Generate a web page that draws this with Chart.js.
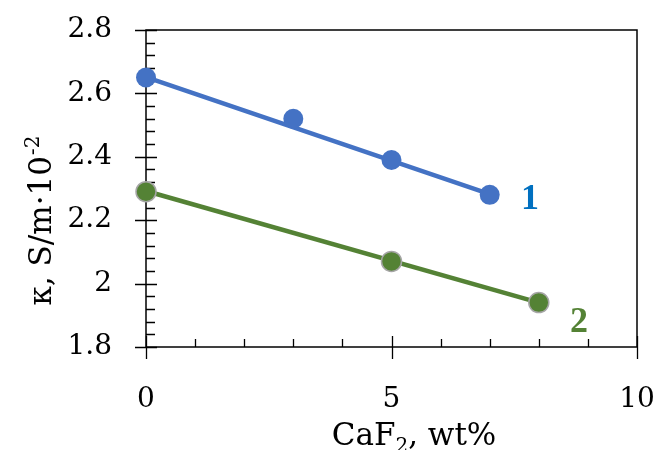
<!DOCTYPE html>
<html>
<head>
<meta charset="utf-8">
<script src="https://cdn.jsdelivr.net/npm/chart.js@4/dist/chart.umd.min.js"></script>
<style>
html,body{margin:0;padding:0;background:#fff;}
canvas{display:block;}
</style>
</head>
<body>
<canvas id="c" width="656" height="450"></canvas>
<script>
// ---- data ----
const series1X = [0, 3, 5, 7];
const series1Y = [2.65, 2.52, 2.39, 2.28];
const series2X = [0, 5, 8];
const series2Y = [2.29, 2.07, 1.94];
// trend lines (end points)
const trend1X = [0, 7];
const trend1Y = [2.651, 2.282];
const trend2X = [0, 8];
const trend2Y = [2.292, 1.94];
// series labels
const labelTexts = ['1', '2'];
const labelX = [7.82, 8.82];
const labelY = [2.266, 1.876];
// tick labels
const xTickValues = [0, 5, 10];
const yTickValues = [1.8, 2.0, 2.2, 2.4, 2.6, 2.8];
const xTitle = ['CaF', '2', ', wt%'];
const yTitle = ['κ, S/m·10', '-2'];

const BLUE = '#4472C4', GREEN = '#548235';
const FONT = '"DejaVu Serif", "Liberation Serif", serif';

function pts(xs, ys){ return xs.map((x,i)=>({x:x, y:ys[i]})); }

const framePlugin = {
  id: 'frame',
  beforeDatasetsDraw(chart){
    const ctx = chart.ctx, a = chart.chartArea;
    const xs = chart.scales.x, ys = chart.scales.y;
    ctx.save();
    ctx.strokeStyle = '#000';
    ctx.lineWidth = 1.5;
    ctx.strokeRect(a.left, a.top, a.right - a.left, a.bottom - a.top);
    ctx.lineWidth = 1.3;
    ctx.beginPath();
    for (let v = ys.min; v <= ys.max + 1e-9; v += 0.04) {
      const p = Math.round(ys.getPixelForValue(v)) + 0.5;
      ctx.moveTo(a.left, p); ctx.lineTo(a.left + 9, p);
    }
    yTickValues.forEach(v => {
      const p = Math.round(ys.getPixelForValue(v)) + 0.5;
      ctx.moveTo(a.left - 11, p); ctx.lineTo(a.left + 11, p);
    });
    for (let v = xs.min; v <= xs.max + 1e-9; v += 1) {
      const p = Math.round(xs.getPixelForValue(v)) + 0.5;
      ctx.moveTo(p, a.bottom); ctx.lineTo(p, a.bottom - 8);
    }
    xTickValues.forEach(v => {
      const p = Math.round(xs.getPixelForValue(v)) + 0.5;
      ctx.moveTo(p, a.bottom - 11); ctx.lineTo(p, a.bottom + 12);
    });
    ctx.stroke();
    ctx.restore();
  },
  afterDraw(chart){
    const ctx = chart.ctx;
    const xs = chart.scales.x, ys = chart.scales.y;
    ctx.save();
    ctx.font = 'bold 36px "Liberation Serif", serif';
    ctx.textAlign = 'center';
    ctx.textBaseline = 'middle';
    const cols = ['#0070C0', GREEN];
    labelTexts.forEach((t,i)=>{
      ctx.fillStyle = cols[i];
      ctx.fillText(t, xs.getPixelForValue(labelX[i]), ys.getPixelForValue(labelY[i]));
    });
    ctx.fillStyle = '#000';
    ctx.textAlign = 'left';
    ctx.textBaseline = 'alphabetic';
    const big = '31px ' + FONT, small = '20px ' + FONT;
    ctx.font = big; const w1 = ctx.measureText(xTitle[0]).width;
    ctx.font = small; const w2 = ctx.measureText(xTitle[1]).width;
    ctx.font = big; const w3 = ctx.measureText(xTitle[2]).width;
    let cx = 414 - (w1 + w2 + w3)/2, by = 445;
    ctx.font = big; ctx.fillText(xTitle[0], cx, by);
    ctx.font = small; ctx.fillText(xTitle[1], cx + w1, by + 7);
    ctx.font = big; ctx.fillText(xTitle[2], cx + w1 + w2, by);
    ctx.translate(51, 221);
    ctx.rotate(-Math.PI/2);
    ctx.font = big; const v1 = ctx.measureText(yTitle[0]).width;
    ctx.font = small; const v2 = ctx.measureText(yTitle[1]).width;
    let sx = -(v1 + v2)/2;
    ctx.font = big; ctx.fillText(yTitle[0], sx, 0);
    ctx.font = small; ctx.fillText(yTitle[1], sx + v1 + 1, -12);
    ctx.restore();
  }
};

new Chart(document.getElementById('c'), {
  type: 'scatter',
  data: {
    datasets: [
      { data: pts(series1X, series1Y), showLine: false, pointRadius: 10, pointHoverRadius: 10,
        backgroundColor: BLUE, borderColor: BLUE, borderWidth: 0, order: 0, clip: false },
      { data: pts(series2X, series2Y), showLine: false, pointRadius: 10, pointHoverRadius: 10,
        backgroundColor: GREEN, borderColor: '#A6A6A6', borderWidth: 1.5, order: 0, clip: false },
      { data: pts(trend1X, trend1Y), showLine: true, pointRadius: 0, borderColor: BLUE,
        borderWidth: 4.5, order: 1, clip: false },
      { data: pts(trend2X, trend2Y), showLine: true, pointRadius: 0, borderColor: GREEN,
        borderWidth: 4.5, order: 1, clip: false }
    ]
  },
  options: {
    responsive: false,
    animation: false,
    devicePixelRatio: 1,
    layout: { padding: { left: 0, top: 30, right: 19, bottom: 0 } },
    plugins: { legend: { display: false }, tooltip: { enabled: false } },
    scales: {
      x: {
        type: 'linear', min: 0, max: 10,
        afterFit(s){ s.height = 103; s.paddingLeft = 0; s.paddingRight = 0; },
        afterBuildTicks(s){ s.ticks = xTickValues.map(v=>({value:v})); },
        grid: { display: false, drawTicks: false },
        border: { display: false },
        ticks: { padding: 36, color: '#000', font: { family: FONT, size: 28 }, maxRotation: 0 }
      },
      y: {
        type: 'linear', min: 1.8, max: 2.8,
        afterFit(s){ s.width = 146; s.paddingTop = 0; s.paddingBottom = 0; },
        afterBuildTicks(s){ s.ticks = yTickValues.map(v=>({value:v})); },
        grid: { display: false, drawTicks: false },
        border: { display: false },
        ticks: { padding: 34, color: '#000', font: { family: FONT, size: 28 },
                 callback: v => String(Math.round(v*10)/10) }
      }
    }
  },
  plugins: [framePlugin]
});
</script>
</body>
</html>
